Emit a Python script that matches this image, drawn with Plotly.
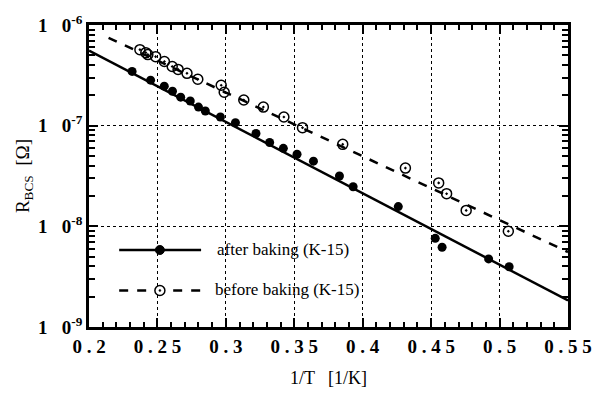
import plotly.graph_objects as go
import numpy as np

# ---- data ----
after_x = [0.2315, 0.245, 0.255, 0.261, 0.267, 0.274, 0.280, 0.285, 0.296, 0.307,
           0.322, 0.332, 0.342, 0.352, 0.364, 0.383, 0.393, 0.426, 0.453, 0.458,
           0.492, 0.507]
after_r = [3.46e-7, 2.83e-7, 2.47e-7, 2.20e-7, 1.92e-7, 1.76e-7, 1.53e-7, 1.40e-7,
           1.22e-7, 1.07e-7, 8.35e-8, 6.8e-8, 5.95e-8, 5.2e-8, 4.44e-8, 3.16e-8,
           2.47e-8, 1.57e-8, 7.6e-9, 6.2e-9, 4.75e-9, 3.97e-9]

before_x = [0.2372, 0.2415, 0.243, 0.2487, 0.2551, 0.2608, 0.2651, 0.2716, 0.2795,
            0.2966, 0.2988, 0.3131, 0.3274, 0.3424, 0.356, 0.3854, 0.4312, 0.4555,
            0.4613, 0.4756, 0.5064]
before_r = [5.69e-7, 5.31e-7, 5.08e-7, 4.85e-7, 4.34e-7, 3.87e-7, 3.62e-7, 3.31e-7,
            2.89e-7, 2.52e-7, 2.15e-7, 1.80e-7, 1.53e-7, 1.22e-7, 9.55e-8, 6.52e-8,
            3.79e-8, 2.70e-8, 2.11e-8, 1.44e-8, 8.93e-9]

fit_after_x = [0.2, 0.55]
fit_after_r = [5.56e-7, 1.84e-9]
fit_before_x = [0.2143, 0.55]
fit_before_r = [7.46e-7, 5.56e-9]

NB = "\u00a0"
x_tickvals = [0.2, 0.25, 0.3, 0.35, 0.4, 0.45, 0.5, 0.55]
x_ticktext = ["0 . 2", "0 . 2 5", "0 . 3", "0 . 3 5", "0 . 4", "0 . 4 5", "0 . 5", "0 . 5 5"]
y_tickvals = [1e-9, 1e-8, 1e-7, 1e-6]
y_ticktext = ["1" + NB * 3 + "0<sup>-9</sup>", "1" + NB * 3 + "0<sup>-8</sup>",
              "1" + NB * 3 + "0<sup>-7</sup>", "1" + NB * 3 + "0<sup>-6</sup>"]

legend_names = ["after baking (K-15)", "before baking (K-15)"]

SERIF = "Liberation Serif"

fig = go.Figure()
fig.add_trace(go.Scatter(x=fit_after_x, y=fit_after_r, mode="lines",
                         line=dict(color="black", width=2.5), showlegend=False))
fig.add_trace(go.Scatter(x=fit_before_x, y=fit_before_r, mode="lines",
                         line=dict(color="black", width=2.5, dash="9px,9px"), showlegend=False))
fig.add_trace(go.Scatter(x=after_x, y=after_r, mode="markers",
                         marker=dict(symbol="circle", size=9, color="black"),
                         showlegend=False))
fig.add_trace(go.Scatter(x=before_x, y=before_r, mode="markers",
                         marker=dict(symbol="circle-open-dot", size=10, color="black",
                                     line=dict(width=1.5)),
                         showlegend=False))

minor_y = [m * 10.0 ** e for e in (-9, -8, -7) for m in range(2, 10)]
minor_x = [round(v, 2) for v in np.arange(0.2, 0.5501, 0.01)]

fig.update_xaxes(
    type="linear", range=[0.2, 0.55],
    tickmode="array", tickvals=x_tickvals, ticktext=x_ticktext,
    ticks="inside", ticklen=9, tickwidth=2, tickcolor="black",
    minor=dict(tickmode="array", tickvals=minor_x, ticks="inside", ticklen=5,
               tickwidth=1.5, tickcolor="black", showgrid=False),
    showline=True, linecolor="black", linewidth=2.5, mirror="ticks",
    showgrid=True, gridcolor="black", gridwidth=1.3, griddash="dot",
    zeroline=False,
    tickfont=dict(family=SERIF, size=19, color="black", weight="bold"),
    title=dict(text="1/T   [1/K]", font=dict(family=SERIF, size=18, color="black"),
               standoff=16),
)
fig.update_yaxes(
    type="log", range=[-9, -6],
    tickmode="array", tickvals=y_tickvals, ticktext=y_ticktext,
    ticks="inside", ticklen=9, tickwidth=2, tickcolor="black",
    minor=dict(tickmode="array", tickvals=minor_y, ticks="inside", ticklen=6,
               tickwidth=1.5, tickcolor="black", showgrid=False),
    showline=True, linecolor="black", linewidth=2.5, mirror="ticks",
    showgrid=True, gridcolor="black", gridwidth=1.3, griddash="dot",
    zeroline=False,
    tickfont=dict(family=SERIF, size=19, color="black", weight="bold"),
    title=dict(text="R<sub>BCS</sub>  [Ω]", font=dict(family=SERIF, size=19, color="black"),
               standoff=4),
)

# legend drawn as shapes (white box hides grid behind it)
shapes = [
    dict(type="rect", xref="paper", yref="paper", x0=0.004, x1=0.63, y0=0.004, y1=0.35,
         fillcolor="white", line=dict(width=0), layer="between"),
    dict(type="line", xref="paper", yref="paper", x0=0.063, x1=0.234, y0=0.255, y1=0.255,
         line=dict(color="black", width=2.5)),
    dict(type="circle", xref="paper", yref="paper", xsizemode="pixel", ysizemode="pixel",
         xanchor=0.148, yanchor=0.255, x0=-4.5, x1=4.5, y0=-4.5, y1=4.5,
         fillcolor="black", line=dict(color="black", width=1)),
    dict(type="line", xref="paper", yref="paper", x0=0.063, x1=0.234, y0=0.121, y1=0.121,
         line=dict(color="black", width=2.5, dash="9px,9px")),
    dict(type="circle", xref="paper", yref="paper", xsizemode="pixel", ysizemode="pixel",
         xanchor=0.148, yanchor=0.121, x0=-5, x1=5, y0=-5, y1=5,
         fillcolor="white", line=dict(color="black", width=1.5)),
    dict(type="circle", xref="paper", yref="paper", xsizemode="pixel", ysizemode="pixel",
         xanchor=0.148, yanchor=0.121, x0=-1, x1=1, y0=-1, y1=1,
         fillcolor="black", line=dict(color="black", width=0.5)),
]
annotations = [
    dict(xref="paper", yref="paper", x=0.264, y=0.258, text=legend_names[0], showarrow=False,
         xanchor="left", yanchor="middle", font=dict(family=SERIF, size=17, color="black")),
    dict(xref="paper", yref="paper", x=0.258, y=0.124, text=legend_names[1], showarrow=False,
         xanchor="left", yanchor="middle", font=dict(family=SERIF, size=17, color="black")),
]

fig.update_layout(
    width=604, height=409,
    margin=dict(l=89, r=26, t=21, b=82),
    paper_bgcolor="white", plot_bgcolor="white",
    shapes=shapes, annotations=annotations,
    showlegend=False,
)

fig.write_html("out.html")
